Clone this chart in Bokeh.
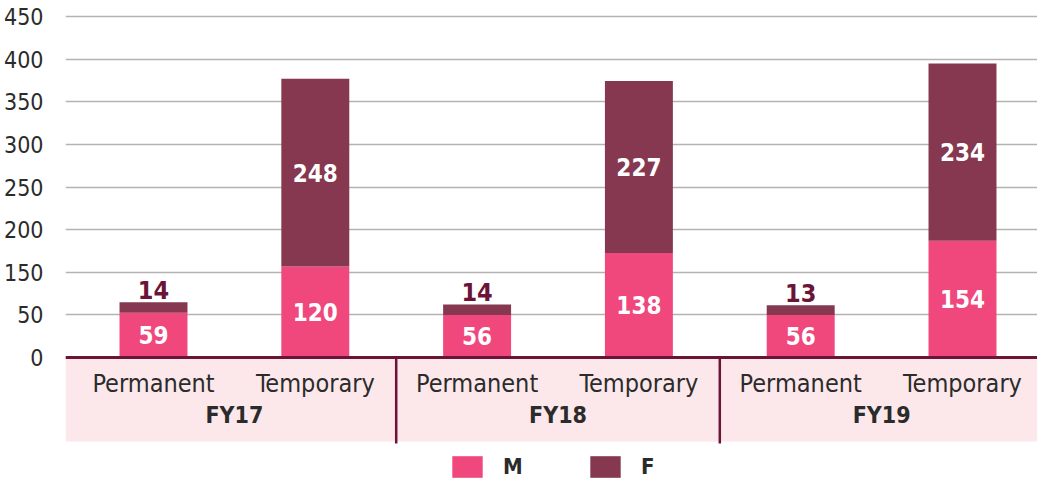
from bokeh.plotting import figure
from bokeh.models import ColumnDataSource, Range1d, FixedTicker
from bokeh.core.properties import value
from bokeh.embed import file_html
from bokeh.resources import INLINE

# ---- data ----
years = ["FY17", "FY18", "FY19"]
types = ["Permanent", "Temporary"]
m_values = [59, 120, 56, 138, 56, 154]
f_values = [14, 248, 14, 227, 13, 234]
y_tick_labels = ["0", "50", "150", "200", "250", "300", "350", "400", "450"]
y_top = 450

# ---- style ----
PINK = "#f0477d"
MAROON = "#85384f"
DARK = "#6b1438"
BAND = "#fce8ea"
FONT_NAME = "DejaVu Sans Condensed"
FONT = value(FONT_NAME)
W, H = 1037, 480
LEFT = 65
TOP_PX = 16
ZERO_PX = 357
PX = (ZERO_PX - TOP_PX) / y_top          # px per unit
def dy(px):
    return px / PX

step_px = 161.8
x_start = -88 / step_px
x_end = x_start + (W - LEFT) / step_px

n = len(years) * len(types)
xs = list(range(n))
cats = [types[i % len(types)] for i in range(n)]
tops = [a + b for a, b in zip(m_values, f_values)]
src = ColumnDataSource(dict(x=xs, m=m_values, f=f_values, cat=cats))

p = figure(width=W, height=H, output_backend="svg", toolbar_location=None,
           x_range=Range1d(x_start, x_end),
           y_range=Range1d(-dy(H - ZERO_PX), y_top + dy(TOP_PX)),
           x_axis_location=None, min_border_left=LEFT, min_border_right=0,
           min_border_top=0, min_border_bottom=0)
p.outline_line_color = None
p.background_fill_color = "white"
p.xgrid.visible = False

ticks = [i * y_top / (len(y_tick_labels) - 1) for i in range(len(y_tick_labels))]
p.yaxis.ticker = FixedTicker(ticks=ticks)
p.yaxis.major_label_overrides = {t: l for t, l in zip(ticks, y_tick_labels)}
p.yaxis.axis_line_color = None
p.yaxis.major_tick_line_color = None
p.yaxis.minor_tick_line_color = None
p.yaxis.major_tick_out = 0
p.yaxis.major_tick_in = 0
p.yaxis.major_label_standoff = 22
p.yaxis.major_label_text_font = FONT_NAME
p.yaxis.major_label_text_font_size = "23px"
p.yaxis.major_label_text_color = "#2b2b2b"
p.ygrid.ticker = FixedTicker(ticks=ticks)
p.ygrid.grid_line_color = "#b3b3b3"
p.ygrid.grid_line_width = 1.5

# category band
p.quad(left=x_start, right=x_end, bottom=-dy(84), top=0, fill_color=BAND, line_color=None)
seps = [(g + 1) * len(types) - 0.5 for g in range(len(years) - 1)]
p.segment(x0=seps, x1=seps, y0=[0] * len(seps), y1=[-dy(86)] * len(seps),
          line_color=DARK, line_width=2.5)

# bars
r = p.vbar_stack(["m", "f"], x="x", width=0.42, color=[PINK, MAROON], source=src,
                 legend_label=["M", "F"], line_color=None)

# baseline
p.segment(x0=[x_start], x1=[x_end], y0=[0], y1=[0], line_color=DARK, line_width=3)

# value labels
p.text(x=xs, y=[v / 2 for v in m_values], text=[str(v) for v in m_values],
       text_font=FONT, text_font_size="24px", text_font_style="bold",
       text_color="white", text_align="center", text_baseline="middle")
in_x = [x for x, c in zip(xs, cats) if c == "Temporary"]
in_y = [m + f / 2 for m, f, c in zip(m_values, f_values, cats) if c == "Temporary"]
in_t = [str(f) for f, c in zip(f_values, cats) if c == "Temporary"]
p.text(x=in_x, y=in_y, text=in_t, text_font=FONT, text_font_size="24px",
       text_font_style="bold", text_color="white", text_align="center", text_baseline="middle")
out_x = [x for x, c in zip(xs, cats) if c == "Permanent"]
out_y = [t + dy(3) for t, c in zip(tops, cats) if c == "Permanent"]
out_t = [str(f) for f, c in zip(f_values, cats) if c == "Permanent"]
p.text(x=out_x, y=out_y, text=out_t, text_font=FONT, text_font_size="25px",
       text_font_style="bold", text_color=DARK, text_align="center", text_baseline="bottom")

# category labels
p.text(x=xs, y=[-dy(26)] * n, text=cats, text_font=FONT, text_font_size="25px",
       text_color="#2b2b2b", text_align="center", text_baseline="middle")
gx = [g * len(types) + (len(types) - 1) / 2 for g in range(len(years))]
p.text(x=gx, y=[-dy(57)] * len(years), text=years, text_font=FONT, text_font_size="23px",
       text_font_style="bold", text_color="#2b2b2b", text_align="center", text_baseline="middle")

# legend
lg = p.legend[0]
lg.orientation = "horizontal"
lg.location = (383, 0)
lg.padding = 0
lg.margin = 0
lg.spacing = 63
lg.glyph_width = 38
lg.glyph_height = 27
lg.label_height = 27
lg.label_standoff = 17
lg.label_text_font = FONT_NAME
lg.label_text_font_size = "22px"
lg.label_text_font_style = "bold"
lg.label_text_color = "#2b2b2b"
lg.border_line_color = None
lg.background_fill_alpha = 0

open("out.html", "w").write(file_html(p, INLINE))
